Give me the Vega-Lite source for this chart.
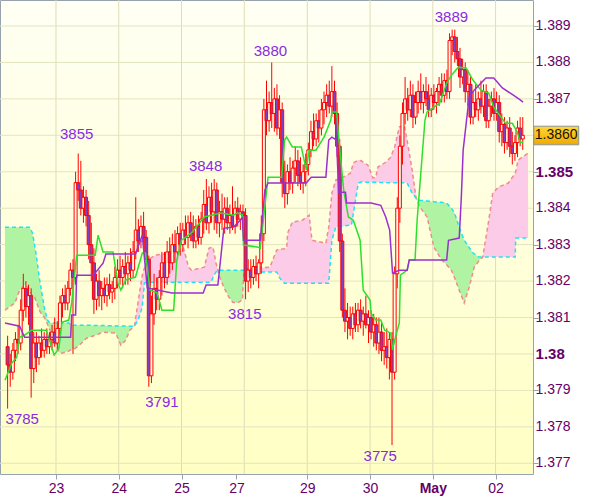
{
"$schema":"https://vega.github.io/schema/vega-lite/v6.json",
"width":533,"height":474,
"autosize":{"type":"none"},
"padding":{"left":0,"top":0,"right":67,"bottom":23},
"background":"#ffffff",
"config":{"view":{"stroke":"#98a2ae","strokeWidth":1,"fill":{"gradient":"linear","x1":0,"y1":0,"x2":0,"y2":1,"stops":[{"offset":0,"color":"#fffff4"},{"offset":1,"color":"#ffffc4"}]}},"font":"Liberation Sans",
 "axis":{"labelOverlap":false,"labelBound":false,"labelFlush":false,"title":null}},
"datasets":{
"days":[{"t":19.5},{"t":43.5},{"t":67.5},{"t":91.5},{"t":115.6},{"t":139.6},{"t":163.6},{"t":187.6}],
"yt":[{"v":1.377,"lab":"1.377","w":"normal"},{"v":1.378,"lab":"1.378","w":"normal"},{"v":1.379,"lab":"1.379","w":"normal"},{"v":1.38,"lab":"1.38","w":"bold"},{"v":1.381,"lab":"1.381","w":"normal"},{"v":1.382,"lab":"1.382","w":"normal"},{"v":1.383,"lab":"1.383","w":"normal"},{"v":1.384,"lab":"1.384","w":"normal"},{"v":1.385,"lab":"1.385","w":"bold"},{"v":1.386,"lab":"","w":"normal"},{"v":1.387,"lab":"1.387","w":"normal"},{"v":1.388,"lab":"1.388","w":"normal"},{"v":1.389,"lab":"1.389","w":"normal"}],
"candles":[
{"t":1,"o":1.3802,"h":1.3805,"l":1.3785,"c":1.3797},{"t":2,"o":1.3797,"h":1.3800,"l":1.3791,"c":1.3795},{"t":3,"o":1.3795,"h":1.3803,"l":1.3793,"c":1.3801},{"t":4,"o":1.3801,"h":1.3806,"l":1.3798,"c":1.3804},{"t":5,"o":1.3804,"h":1.3808,"l":1.3800,"c":1.3803},
{"t":6,"o":1.3803,"h":1.3815,"l":1.3801,"c":1.3812},{"t":7,"o":1.3812,"h":1.3822,"l":1.3809,"c":1.3818},{"t":8,"o":1.3818,"h":1.3820,"l":1.3810,"c":1.3813},{"t":9,"o":1.3813,"h":1.3819,"l":1.3808,"c":1.3816},{"t":10,"o":1.3816,"h":1.3818,"l":1.3788,"c":1.3796},
{"t":11,"o":1.3796,"h":1.3806,"l":1.3792,"c":1.3803},{"t":12,"o":1.3803,"h":1.3806,"l":1.3795,"c":1.3799},{"t":13,"o":1.3799,"h":1.3805,"l":1.3797,"c":1.3803},{"t":14,"o":1.3803,"h":1.3807,"l":1.3799,"c":1.3801},{"t":15,"o":1.3801,"h":1.3806,"l":1.3799,"c":1.3804},
{"t":16,"o":1.3804,"h":1.3807,"l":1.3800,"c":1.3802},{"t":17,"o":1.3802,"h":1.3806,"l":1.3800,"c":1.3804},{"t":18,"o":1.3804,"h":1.3808,"l":1.3801,"c":1.3806},{"t":19,"o":1.3806,"h":1.3810,"l":1.3802,"c":1.3803},{"t":20,"o":1.3803,"h":1.3809,"l":1.3801,"c":1.3807},
{"t":21,"o":1.3807,"h":1.3816,"l":1.3805,"c":1.3814},{"t":22,"o":1.3814,"h":1.3818,"l":1.3810,"c":1.3816},{"t":23,"o":1.3816,"h":1.3819,"l":1.3812,"c":1.3814},{"t":24,"o":1.3814,"h":1.3820,"l":1.3812,"c":1.3818},{"t":25,"o":1.3818,"h":1.3825,"l":1.3816,"c":1.3823},
{"t":26,"o":1.3823,"h":1.3826,"l":1.3800,"c":1.3821},{"t":27,"o":1.3821,"h":1.3850,"l":1.3819,"c":1.3847},{"t":28,"o":1.3847,"h":1.3855,"l":1.3842,"c":1.3845},{"t":29,"o":1.3845,"h":1.3853,"l":1.3838,"c":1.3840},{"t":30,"o":1.3840,"h":1.3846,"l":1.3836,"c":1.3843},
{"t":31,"o":1.3843,"h":1.3845,"l":1.3835,"c":1.3838},{"t":32,"o":1.3838,"h":1.3842,"l":1.3826,"c":1.3830},{"t":33,"o":1.3830,"h":1.3836,"l":1.3820,"c":1.3825},{"t":34,"o":1.3825,"h":1.3829,"l":1.3811,"c":1.3815},{"t":35,"o":1.3815,"h":1.3822,"l":1.3812,"c":1.3820},
{"t":36,"o":1.3820,"h":1.3823,"l":1.3813,"c":1.3816},{"t":37,"o":1.3816,"h":1.3820,"l":1.3812,"c":1.3818},{"t":38,"o":1.3818,"h":1.3821,"l":1.3814,"c":1.3816},{"t":39,"o":1.3816,"h":1.3821,"l":1.3813,"c":1.3819},{"t":40,"o":1.3819,"h":1.3822,"l":1.3815,"c":1.3817},
{"t":41,"o":1.3817,"h":1.3820,"l":1.3814,"c":1.3818},{"t":42,"o":1.3818,"h":1.3824,"l":1.3815,"c":1.3821},{"t":43,"o":1.3821,"h":1.3826,"l":1.3818,"c":1.3823},{"t":44,"o":1.3823,"h":1.3827,"l":1.3819,"c":1.3821},{"t":45,"o":1.3821,"h":1.3826,"l":1.3818,"c":1.3824},
{"t":46,"o":1.3824,"h":1.3828,"l":1.3819,"c":1.3822},{"t":47,"o":1.3822,"h":1.3827,"l":1.3819,"c":1.3825},{"t":48,"o":1.3825,"h":1.3829,"l":1.3820,"c":1.3823},{"t":49,"o":1.3823,"h":1.3831,"l":1.3821,"c":1.3828},{"t":50,"o":1.3828,"h":1.3843,"l":1.3826,"c":1.3834},
{"t":51,"o":1.3834,"h":1.3837,"l":1.3828,"c":1.3831},{"t":52,"o":1.3831,"h":1.3838,"l":1.3829,"c":1.3835},{"t":53,"o":1.3835,"h":1.3839,"l":1.3829,"c":1.3832},{"t":54,"o":1.3832,"h":1.3834,"l":1.3824,"c":1.3826},{"t":55,"o":1.3826,"h":1.3827,"l":1.3791,"c":1.3794},
{"t":56,"o":1.3794,"h":1.3816,"l":1.3792,"c":1.3811},{"t":57,"o":1.3811,"h":1.3822,"l":1.3808,"c":1.3818},{"t":58,"o":1.3818,"h":1.3821,"l":1.3812,"c":1.3815},{"t":59,"o":1.3815,"h":1.3823,"l":1.3812,"c":1.3821},{"t":60,"o":1.3821,"h":1.3828,"l":1.3816,"c":1.3825},
{"t":61,"o":1.3825,"h":1.3828,"l":1.3818,"c":1.3821},{"t":62,"o":1.3821,"h":1.3831,"l":1.3819,"c":1.3828},{"t":63,"o":1.3828,"h":1.3832,"l":1.3822,"c":1.3825},{"t":64,"o":1.3825,"h":1.3833,"l":1.3823,"c":1.3830},{"t":65,"o":1.3830,"h":1.3834,"l":1.3825,"c":1.3828},
{"t":66,"o":1.3828,"h":1.3835,"l":1.3826,"c":1.3833},{"t":67,"o":1.3833,"h":1.3836,"l":1.3827,"c":1.3830},{"t":68,"o":1.3830,"h":1.3836,"l":1.3828,"c":1.3834},{"t":69,"o":1.3834,"h":1.3838,"l":1.3830,"c":1.3832},{"t":70,"o":1.3832,"h":1.3838,"l":1.3829,"c":1.3836},
{"t":71,"o":1.3836,"h":1.3839,"l":1.3831,"c":1.3833},{"t":72,"o":1.3833,"h":1.3838,"l":1.3829,"c":1.3831},{"t":73,"o":1.3831,"h":1.3837,"l":1.3829,"c":1.3835},{"t":74,"o":1.3835,"h":1.3838,"l":1.3830,"c":1.3832},{"t":75,"o":1.3832,"h":1.3839,"l":1.3830,"c":1.3837},
{"t":76,"o":1.3837,"h":1.3845,"l":1.3833,"c":1.3841},{"t":77,"o":1.3841,"h":1.3848,"l":1.3834,"c":1.3836},{"t":78,"o":1.3836,"h":1.3846,"l":1.3833,"c":1.3843},{"t":79,"o":1.3843,"h":1.3847,"l":1.3836,"c":1.3839},{"t":80,"o":1.3839,"h":1.3848,"l":1.3834,"c":1.3845},
{"t":81,"o":1.3845,"h":1.3847,"l":1.3833,"c":1.3836},{"t":82,"o":1.3836,"h":1.3842,"l":1.3832,"c":1.3839},{"t":83,"o":1.3839,"h":1.3844,"l":1.3834,"c":1.3837},{"t":84,"o":1.3837,"h":1.3843,"l":1.3833,"c":1.3840},{"t":85,"o":1.3840,"h":1.3843,"l":1.3834,"c":1.3836},
{"t":86,"o":1.3836,"h":1.3841,"l":1.3833,"c":1.3838},{"t":87,"o":1.3838,"h":1.3846,"l":1.3834,"c":1.3835},{"t":88,"o":1.3835,"h":1.3842,"l":1.3833,"c":1.3840},{"t":89,"o":1.3840,"h":1.3843,"l":1.3835,"c":1.3837},{"t":90,"o":1.3837,"h":1.3841,"l":1.3834,"c":1.3839},
{"t":91,"o":1.3839,"h":1.3841,"l":1.3834,"c":1.3838},{"t":92,"o":1.3838,"h":1.3840,"l":1.3815,"c":1.3820},{"t":93,"o":1.3820,"h":1.3826,"l":1.3817,"c":1.3823},{"t":94,"o":1.3823,"h":1.3826,"l":1.3818,"c":1.3821},{"t":95,"o":1.3821,"h":1.3826,"l":1.3819,"c":1.3824},
{"t":96,"o":1.3824,"h":1.3827,"l":1.3820,"c":1.3822},{"t":97,"o":1.3822,"h":1.3826,"l":1.3818,"c":1.3825},{"t":98,"o":1.3825,"h":1.3838,"l":1.3822,"c":1.3833},{"t":99,"o":1.3833,"h":1.3870,"l":1.3831,"c":1.3867},{"t":100,"o":1.3867,"h":1.3875,"l":1.3860,"c":1.3864},
{"t":101,"o":1.3864,"h":1.3872,"l":1.3861,"c":1.3869},{"t":102,"o":1.3869,"h":1.3880,"l":1.3862,"c":1.3866},{"t":103,"o":1.3866,"h":1.3873,"l":1.3861,"c":1.3870},{"t":104,"o":1.3870,"h":1.3874,"l":1.3860,"c":1.3862},{"t":105,"o":1.3862,"h":1.3871,"l":1.3859,"c":1.3867},
{"t":106,"o":1.3867,"h":1.3869,"l":1.3843,"c":1.3847},{"t":107,"o":1.3847,"h":1.3853,"l":1.3840,"c":1.3844},{"t":108,"o":1.3844,"h":1.3852,"l":1.3841,"c":1.3850},{"t":109,"o":1.3850,"h":1.3854,"l":1.3845,"c":1.3847},{"t":110,"o":1.3847,"h":1.3853,"l":1.3844,"c":1.3851},
{"t":111,"o":1.3851,"h":1.3857,"l":1.3847,"c":1.3853},{"t":112,"o":1.3853,"h":1.3856,"l":1.3846,"c":1.3849},{"t":113,"o":1.3849,"h":1.3854,"l":1.3845,"c":1.3847},{"t":114,"o":1.3847,"h":1.3852,"l":1.3844,"c":1.3850},{"t":115,"o":1.3850,"h":1.3855,"l":1.3846,"c":1.3852},
{"t":116,"o":1.3852,"h":1.3858,"l":1.3849,"c":1.3856},{"t":117,"o":1.3856,"h":1.3864,"l":1.3854,"c":1.3861},{"t":118,"o":1.3861,"h":1.3866,"l":1.3857,"c":1.3859},{"t":119,"o":1.3859,"h":1.3866,"l":1.3857,"c":1.3864},{"t":120,"o":1.3864,"h":1.3867,"l":1.3858,"c":1.3862},
{"t":121,"o":1.3862,"h":1.3870,"l":1.3860,"c":1.3867},{"t":122,"o":1.3867,"h":1.3872,"l":1.3863,"c":1.3869},{"t":123,"o":1.3869,"h":1.3874,"l":1.3865,"c":1.3871},{"t":124,"o":1.3871,"h":1.3875,"l":1.3866,"c":1.3868},{"t":125,"o":1.3868,"h":1.3879,"l":1.3865,"c":1.3872},
{"t":126,"o":1.3872,"h":1.3875,"l":1.3863,"c":1.3866},{"t":127,"o":1.3866,"h":1.3869,"l":1.3854,"c":1.3857},{"t":128,"o":1.3857,"h":1.3859,"l":1.3828,"c":1.3831},{"t":129,"o":1.3831,"h":1.3833,"l":1.3810,"c":1.3812},{"t":130,"o":1.3812,"h":1.3818,"l":1.3806,"c":1.3809},
{"t":131,"o":1.3809,"h":1.3814,"l":1.3804,"c":1.3810},{"t":132,"o":1.3810,"h":1.3813,"l":1.3805,"c":1.3807},{"t":133,"o":1.3807,"h":1.3813,"l":1.3804,"c":1.3811},{"t":134,"o":1.3811,"h":1.3814,"l":1.3806,"c":1.3808},{"t":135,"o":1.3808,"h":1.3814,"l":1.3806,"c":1.3812},
{"t":136,"o":1.3812,"h":1.3815,"l":1.3807,"c":1.3809},{"t":137,"o":1.3809,"h":1.3813,"l":1.3805,"c":1.3811},{"t":138,"o":1.3811,"h":1.3816,"l":1.3807,"c":1.3808},{"t":139,"o":1.3808,"h":1.3812,"l":1.3803,"c":1.3810},{"t":140,"o":1.3810,"h":1.3812,"l":1.3804,"c":1.3806},
{"t":141,"o":1.3806,"h":1.3811,"l":1.3802,"c":1.3808},{"t":142,"o":1.3808,"h":1.3810,"l":1.3801,"c":1.3803},{"t":143,"o":1.3803,"h":1.3810,"l":1.3800,"c":1.3806},{"t":144,"o":1.3806,"h":1.3809,"l":1.3798,"c":1.3801},{"t":145,"o":1.3801,"h":1.3806,"l":1.3797,"c":1.3802},
{"t":146,"o":1.3802,"h":1.3807,"l":1.3796,"c":1.3799},{"t":147,"o":1.3799,"h":1.3806,"l":1.3793,"c":1.3804},{"t":148,"o":1.3804,"h":1.3806,"l":1.3775,"c":1.3795},{"t":149,"o":1.3795,"h":1.3824,"l":1.3793,"c":1.3822},{"t":150,"o":1.3822,"h":1.3843,"l":1.3818,"c":1.3840},
{"t":151,"o":1.3840,"h":1.3860,"l":1.3836,"c":1.3857},{"t":152,"o":1.3857,"h":1.3869,"l":1.3852,"c":1.3866},{"t":153,"o":1.3866,"h":1.3876,"l":1.3863,"c":1.3870},{"t":154,"o":1.3870,"h":1.3873,"l":1.3864,"c":1.3867},{"t":155,"o":1.3867,"h":1.3875,"l":1.3865,"c":1.3871},
{"t":156,"o":1.3871,"h":1.3874,"l":1.3862,"c":1.3865},{"t":157,"o":1.3865,"h":1.3872,"l":1.3863,"c":1.3869},{"t":158,"o":1.3869,"h":1.3875,"l":1.3866,"c":1.3872},{"t":159,"o":1.3872,"h":1.3877,"l":1.3867,"c":1.3869},{"t":160,"o":1.3869,"h":1.3874,"l":1.3866,"c":1.3872},
{"t":161,"o":1.3872,"h":1.3876,"l":1.3868,"c":1.3870},{"t":162,"o":1.3870,"h":1.3874,"l":1.3865,"c":1.3867},{"t":163,"o":1.3867,"h":1.3873,"l":1.3865,"c":1.3871},{"t":164,"o":1.3871,"h":1.3874,"l":1.3867,"c":1.3869},{"t":165,"o":1.3869,"h":1.3873,"l":1.3866,"c":1.3872},
{"t":166,"o":1.3872,"h":1.3876,"l":1.3868,"c":1.3874},{"t":167,"o":1.3874,"h":1.3877,"l":1.3869,"c":1.3871},{"t":168,"o":1.3871,"h":1.3877,"l":1.3869,"c":1.3875},{"t":169,"o":1.3875,"h":1.3878,"l":1.3870,"c":1.3872},{"t":170,"o":1.3872,"h":1.3888,"l":1.3870,"c":1.3886},
{"t":171,"o":1.3886,"h":1.3889,"l":1.3882,"c":1.3887},{"t":172,"o":1.3887,"h":1.3889,"l":1.3880,"c":1.3883},{"t":173,"o":1.3883,"h":1.3887,"l":1.3879,"c":1.3881},{"t":174,"o":1.3881,"h":1.3884,"l":1.3873,"c":1.3876},{"t":175,"o":1.3876,"h":1.3881,"l":1.3874,"c":1.3878},
{"t":176,"o":1.3878,"h":1.3880,"l":1.3869,"c":1.3872},{"t":177,"o":1.3872,"h":1.3878,"l":1.3868,"c":1.3874},{"t":178,"o":1.3874,"h":1.3876,"l":1.3863,"c":1.3865},{"t":179,"o":1.3865,"h":1.3872,"l":1.3863,"c":1.3869},{"t":180,"o":1.3869,"h":1.3874,"l":1.3865,"c":1.3867},
{"t":181,"o":1.3867,"h":1.3872,"l":1.3864,"c":1.3870},{"t":182,"o":1.3870,"h":1.3875,"l":1.3866,"c":1.3868},{"t":183,"o":1.3868,"h":1.3874,"l":1.3865,"c":1.3872},{"t":184,"o":1.3872,"h":1.3874,"l":1.3862,"c":1.3864},{"t":185,"o":1.3864,"h":1.3870,"l":1.3862,"c":1.3868},
{"t":186,"o":1.3868,"h":1.3872,"l":1.3865,"c":1.3870},{"t":187,"o":1.3870,"h":1.3873,"l":1.3864,"c":1.3866},{"t":188,"o":1.3866,"h":1.3872,"l":1.3864,"c":1.3869},{"t":189,"o":1.3869,"h":1.3871,"l":1.3858,"c":1.3861},{"t":190,"o":1.3861,"h":1.3866,"l":1.3857,"c":1.3863},
{"t":191,"o":1.3863,"h":1.3865,"l":1.3855,"c":1.3858},{"t":192,"o":1.3858,"h":1.3864,"l":1.3856,"c":1.3862},{"t":193,"o":1.3862,"h":1.3865,"l":1.3854,"c":1.3857},{"t":194,"o":1.3857,"h":1.3861,"l":1.3852,"c":1.3855},{"t":195,"o":1.3855,"h":1.3860,"l":1.3853,"c":1.3858},
{"t":196,"o":1.3858,"h":1.3864,"l":1.3854,"c":1.3862},{"t":197,"o":1.3862,"h":1.3865,"l":1.3857,"c":1.3859},{"t":198,"o":1.3859,"h":1.3865,"l":1.3856,"c":1.3860}
],
"cloud":[
{"t":0,"a":1.38120,"b":1.38348,"s":1,"k":"g"},{"t":3.8,"a":1.38140,"b":1.38348,"s":1,"k":"g"},{"t":5.6,"a":1.38175,"b":1.38348,"s":1,"k":"g"},{"t":7.5,"a":1.38189,"b":1.38348,"s":1,"k":"g"},{"t":8.6,"a":1.38183,"b":1.38348,"s":1,"k":"g"},{"t":9.4,"a":1.38175,"b":1.38348,"s":1,"k":"g"},{"t":10.5,"a":1.38159,"b":1.38332,"s":1,"k":"g"},{"t":11.3,"a":1.38156,"b":1.38300,"s":1,"k":"g"},{"t":12.4,"a":1.38135,"b":1.38249,"s":1,"k":"g"},{"t":13.1,"a":1.38120,"b":1.38210,"s":1,"k":"g"},{"t":13.9,"a":1.38110,"b":1.38175,"s":1,"k":"g"},{"t":15.0,"a":1.38101,"b":1.38129,"s":1,"k":"g"},{"t":16.1,"a":1.38085,"b":1.38095,"s":1,"k":"g"},{"t":16.9,"a":1.38070,"b":1.38087,"s":1,"k":"g"},{"t":17.6,"a":1.38058,"b":1.38085,"s":1,"k":"g"},{"t":18.8,"a":1.38046,"b":1.38085,"s":1,"k":"g"},{"t":20.6,"a":1.38005,"b":1.38085,"s":1,"k":"g"},{"t":21.8,"a":1.38002,"b":1.38085,"s":1,"k":"g"},{"t":24.4,"a":1.38008,"b":1.38085,"s":1,"k":"g"},{"t":25.1,"a":1.38011,"b":1.38079,"s":1,"k":"g"},{"t":27.0,"a":1.38016,"b":1.38079,"s":1,"k":"g"},{"t":29.3,"a":1.38030,"b":1.38079,"s":1,"k":"g"},{"t":31.1,"a":1.38043,"b":1.38079,"s":1,"k":"g"},{"t":34.9,"a":1.38052,"b":1.38078,"s":1,"k":"g"},{"t":37.5,"a":1.38060,"b":1.38078,"s":1,"k":"g"},{"t":42.4,"a":1.38057,"b":1.38077,"s":1,"k":"g"},{"t":44.3,"a":1.38024,"b":1.38077,"s":1,"k":"g"},{"t":46.2,"a":1.38038,"b":1.38077,"s":1,"k":"g"},{"t":47.7,"a":1.38065,"b":1.38076,"s":1,"k":"g"},{"t":49.5,"a":1.38076,"b":1.38076,"s":1,"k":"g"},
{"t":49.5,"a":1.38076,"b":1.38076,"s":2,"k":"p"},{"t":51.0,"a":1.38148,"b":1.38095,"s":2,"k":"p"},{"t":52.5,"a":1.38216,"b":1.38129,"s":2,"k":"p"},{"t":53.3,"a":1.38235,"b":1.38194,"s":2,"k":"p"},{"t":53.7,"a":1.38244,"b":1.38196,"s":2,"k":"p"},{"t":55.2,"a":1.38260,"b":1.38197,"s":2,"k":"p"},{"t":57.4,"a":1.38271,"b":1.38197,"s":2,"k":"p"},{"t":63.8,"a":1.38277,"b":1.38197,"s":2,"k":"p"},{"t":66.4,"a":1.38280,"b":1.38197,"s":2,"k":"p"},{"t":68.3,"a":1.38290,"b":1.38197,"s":2,"k":"p"},{"t":70.2,"a":1.38238,"b":1.38197,"s":2,"k":"p"},{"t":71.3,"a":1.38230,"b":1.38197,"s":2,"k":"p"},{"t":76.2,"a":1.38238,"b":1.38197,"s":2,"k":"p"},{"t":78.0,"a":1.38290,"b":1.38197,"s":2,"k":"p"},{"t":78.8,"a":1.38292,"b":1.38197,"s":2,"k":"p"},{"t":79.5,"a":1.38293,"b":1.38210,"s":2,"k":"p"},{"t":79.9,"a":1.38280,"b":1.38216,"s":2,"k":"p"},{"t":80.7,"a":1.38249,"b":1.38225,"s":2,"k":"p"},{"t":81.4,"a":1.38230,"b":1.38230,"s":2,"k":"p"},
{"t":81.4,"a":1.38230,"b":1.38230,"s":3,"k":"g"},{"t":81.8,"a":1.38216,"b":1.38230,"s":3,"k":"g"},{"t":83.7,"a":1.38183,"b":1.38230,"s":3,"k":"g"},{"t":85.6,"a":1.38156,"b":1.38230,"s":3,"k":"g"},{"t":87.1,"a":1.38142,"b":1.38230,"s":3,"k":"g"},{"t":88.9,"a":1.38140,"b":1.38230,"s":3,"k":"g"},{"t":90.8,"a":1.38148,"b":1.38230,"s":3,"k":"g"},{"t":91.2,"a":1.38211,"b":1.38230,"s":3,"k":"g"},{"t":91.6,"a":1.38230,"b":1.38230,"s":3,"k":"g"},
{"t":91.6,"a":1.38230,"b":1.38230,"s":4,"k":"p"},{"t":93.1,"a":1.38234,"b":1.38225,"s":4,"k":"p"},{"t":94.6,"a":1.38236,"b":1.38225,"s":4,"k":"p"},{"t":101.3,"a":1.38238,"b":1.38225,"s":4,"k":"p"},{"t":103.9,"a":1.38285,"b":1.38225,"s":4,"k":"p"},{"t":105.1,"a":1.38288,"b":1.38208,"s":4,"k":"p"},{"t":106.9,"a":1.38289,"b":1.38194,"s":4,"k":"p"},{"t":107.7,"a":1.38290,"b":1.38194,"s":4,"k":"p"},{"t":108.1,"a":1.38332,"b":1.38194,"s":4,"k":"p"},{"t":109.9,"a":1.38362,"b":1.38194,"s":4,"k":"p"},{"t":113.7,"a":1.38367,"b":1.38194,"s":4,"k":"p"},{"t":116.3,"a":1.38381,"b":1.38194,"s":4,"k":"p"},{"t":117.4,"a":1.38312,"b":1.38194,"s":4,"k":"p"},{"t":122.7,"a":1.38304,"b":1.38194,"s":4,"k":"p"},{"t":123.8,"a":1.38348,"b":1.38194,"s":4,"k":"p"},{"t":125.0,"a":1.38441,"b":1.38312,"s":4,"k":"p"},{"t":126.5,"a":1.38477,"b":1.38348,"s":4,"k":"p"},{"t":128.7,"a":1.38483,"b":1.38350,"s":4,"k":"p"},{"t":132.1,"a":1.38496,"b":1.38354,"s":4,"k":"p"},{"t":132.5,"a":1.38505,"b":1.38354,"s":4,"k":"p"},{"t":133.2,"a":1.38524,"b":1.38385,"s":4,"k":"p"},{"t":135.1,"a":1.38532,"b":1.38469,"s":4,"k":"p"},{"t":136.2,"a":1.38530,"b":1.38472,"s":4,"k":"p"},{"t":138.8,"a":1.38518,"b":1.38471,"s":4,"k":"p"},{"t":140.7,"a":1.38483,"b":1.38471,"s":4,"k":"p"},{"t":141.8,"a":1.38485,"b":1.38471,"s":4,"k":"p"},{"t":142.6,"a":1.38513,"b":1.38471,"s":4,"k":"p"},{"t":145.6,"a":1.38526,"b":1.38470,"s":4,"k":"p"},{"t":147.5,"a":1.38540,"b":1.38470,"s":4,"k":"p"},{"t":149.0,"a":1.38568,"b":1.38470,"s":4,"k":"p"},{"t":150.8,"a":1.38623,"b":1.38470,"s":4,"k":"p"},{"t":152.7,"a":1.38628,"b":1.38470,"s":4,"k":"p"},{"t":153.8,"a":1.38585,"b":1.38469,"s":4,"k":"p"},{"t":155.7,"a":1.38505,"b":1.38441,"s":4,"k":"p"},{"t":157.2,"a":1.38428,"b":1.38428,"s":4,"k":"p"},
{"t":157.2,"a":1.38428,"b":1.38428,"s":5,"k":"g"},{"t":158.5,"a":1.38405,"b":1.38422,"s":5,"k":"g"},{"t":161.4,"a":1.38376,"b":1.38420,"s":5,"k":"g"},{"t":164.0,"a":1.38293,"b":1.38418,"s":5,"k":"g"},{"t":167.0,"a":1.38258,"b":1.38416,"s":5,"k":"g"},{"t":168.9,"a":1.38245,"b":1.38414,"s":5,"k":"g"},{"t":170.7,"a":1.38230,"b":1.38400,"s":5,"k":"g"},{"t":171.9,"a":1.38210,"b":1.38387,"s":5,"k":"g"},{"t":173.7,"a":1.38175,"b":1.38348,"s":5,"k":"g"},{"t":175.6,"a":1.38140,"b":1.38312,"s":5,"k":"g"},{"t":177.5,"a":1.38183,"b":1.38292,"s":5,"k":"g"},{"t":179.0,"a":1.38225,"b":1.38277,"s":5,"k":"g"},{"t":179.4,"a":1.38238,"b":1.38275,"s":5,"k":"g"},{"t":181.2,"a":1.38255,"b":1.38266,"s":5,"k":"g"},{"t":182.7,"a":1.38266,"b":1.38266,"s":5,"k":"g"},
{"t":182.7,"a":1.38266,"b":1.38266,"s":6,"k":"p"},{"t":185.0,"a":1.38367,"b":1.38266,"s":6,"k":"p"},{"t":186.5,"a":1.38441,"b":1.38266,"s":6,"k":"p"},{"t":188.7,"a":1.38458,"b":1.38266,"s":6,"k":"p"},{"t":192.5,"a":1.38469,"b":1.38266,"s":6,"k":"p"},{"t":195.1,"a":1.38496,"b":1.38266,"s":6,"k":"p"},{"t":195.3,"a":1.38500,"b":1.38318,"s":6,"k":"p"},{"t":196.2,"a":1.38532,"b":1.38318,"s":6,"k":"p"},{"t":200,"a":1.38551,"b":1.38318,"s":6,"k":"p"}
],
"tenkan":[
{"t":0,"v":1.37928},{"t":2.6,"v":1.37975},{"t":4.5,"v":1.37991},{"t":5.6,"v":1.38046},{"t":7.5,"v":1.38052},{"t":10.1,"v":1.38065},{"t":15.8,"v":1.38065},{"t":18.8,"v":1.37997},{"t":20.6,"v":1.38016},{"t":21.8,"v":1.38087},{"t":24.4,"v":1.38093},{"t":25.5,"v":1.38140},{"t":27.4,"v":1.38271},{"t":34.5,"v":1.38271},{"t":35.6,"v":1.38326},{"t":37.5,"v":1.38280},{"t":41.3,"v":1.38280},{"t":43.2,"v":1.38194},{"t":44.3,"v":1.38175},{"t":46.2,"v":1.38203},{"t":49.9,"v":1.38211},{"t":52.5,"v":1.38277},{"t":53.7,"v":1.38277},{"t":55.5,"v":1.38175},{"t":58.2,"v":1.38167},{"t":60.0,"v":1.38120},{"t":64.5,"v":1.38120},{"t":65.7,"v":1.38258},{"t":67.5,"v":1.38312},{"t":71.3,"v":1.38332},{"t":76.2,"v":1.38376},{"t":82.6,"v":1.38387},{"t":87.4,"v":1.38381},{"t":88.9,"v":1.38387},{"t":90.8,"v":1.38381},{"t":91.2,"v":1.38299},{"t":96.8,"v":1.38293},{"t":97.6,"v":1.38290},{"t":100.2,"v":1.38458},{"t":100.6,"v":1.38485},{"t":105.8,"v":1.38485},{"t":106.9,"v":1.38587},{"t":107.7,"v":1.38595},{"t":109.9,"v":1.38568},{"t":113.3,"v":1.38568},{"t":115.2,"v":1.38505},{"t":116.3,"v":1.38559},{"t":118.9,"v":1.38559},{"t":122.0,"v":1.38595},{"t":124.6,"v":1.38642},{"t":125.0,"v":1.38664},{"t":126.8,"v":1.38664},{"t":127.6,"v":1.38595},{"t":129.5,"v":1.38450},{"t":131.3,"v":1.38376},{"t":133.2,"v":1.38367},{"t":135.8,"v":1.38312},{"t":137.0,"v":1.38175},{"t":139.6,"v":1.38148},{"t":140.0,"v":1.38112},{"t":141.8,"v":1.38093},{"t":143.7,"v":1.38093},{"t":145.2,"v":1.38065},{"t":147.5,"v":1.38057},{"t":148.2,"v":1.38011},{"t":149.3,"v":1.38046},{"t":150.8,"v":1.38085},{"t":151.2,"v":1.38216},{"t":153.8,"v":1.38230},{"t":154.6,"v":1.38258},{"t":156.8,"v":1.38258},{"t":157.6,"v":1.38367},{"t":160.6,"v":1.38642},{"t":161.4,"v":1.38664},{"t":166.2,"v":1.38688},{"t":168.9,"v":1.38743},{"t":170.7,"v":1.38765},{"t":173.4,"v":1.38787},{"t":176.4,"v":1.38784},{"t":179.0,"v":1.38751},{"t":182.0,"v":1.38724},{"t":185.0,"v":1.38716},{"t":186.9,"v":1.38677},{"t":191.4,"v":1.38633},{"t":194.0,"v":1.38633},{"t":195.9,"v":1.38609},{"t":197.0,"v":1.38581},{"t":198.1,"v":1.38581}
],
"kijun":[
{"t":0,"v":1.38085},{"t":5.6,"v":1.38076},{"t":7.5,"v":1.38046},{"t":25.1,"v":1.38046},{"t":25.5,"v":1.38107},{"t":27.0,"v":1.38107},{"t":27.4,"v":1.38216},{"t":33.8,"v":1.38216},{"t":37.5,"v":1.38249},{"t":38.6,"v":1.38274},{"t":49.9,"v":1.38274},{"t":52.5,"v":1.38326},{"t":54.4,"v":1.38181},{"t":63.8,"v":1.38167},{"t":75.8,"v":1.38167},{"t":76.9,"v":1.38189},{"t":81.4,"v":1.38189},{"t":83.7,"v":1.38345},{"t":87.4,"v":1.38348},{"t":90.8,"v":1.38373},{"t":91.2,"v":1.38312},{"t":97.6,"v":1.38312},{"t":99.4,"v":1.38450},{"t":100.6,"v":1.38469},{"t":115.2,"v":1.38469},{"t":117.1,"v":1.38485},{"t":122.7,"v":1.38485},{"t":123.8,"v":1.38587},{"t":125.0,"v":1.38595},{"t":126.8,"v":1.38587},{"t":127.6,"v":1.38444},{"t":130.2,"v":1.38444},{"t":130.6,"v":1.38414},{"t":140.0,"v":1.38414},{"t":143.7,"v":1.38408},{"t":145.6,"v":1.38376},{"t":147.1,"v":1.38340},{"t":148.2,"v":1.38222},{"t":150.8,"v":1.38230},{"t":153.8,"v":1.38230},{"t":154.6,"v":1.38258},{"t":168.9,"v":1.38258},{"t":169.6,"v":1.38312},{"t":173.7,"v":1.38318},{"t":174.5,"v":1.38430},{"t":175.2,"v":1.38559},{"t":177.5,"v":1.38705},{"t":179.4,"v":1.38724},{"t":183.9,"v":1.38757},{"t":186.9,"v":1.38757},{"t":190.2,"v":1.38730},{"t":194.4,"v":1.38710},{"t":197.0,"v":1.38697},{"t":198.1,"v":1.38691}
],
"labels":[
{"t":170.7,"p":1.38924,"s":"3889"},{"t":101.5,"p":1.38831,"s":"3880"},{"t":27.4,"p":1.38603,"s":"3855"},{"t":76.7,"p":1.38515,"s":"3848"},{"t":91.7,"p":1.38109,"s":"3815"},{"t":60.0,"p":1.37868,"s":"3791"},{"t":6.6,"p":1.37821,"s":"3785"},{"t":143.5,"p":1.37721,"s":"3775"}
],
"last":[{"x1":202.2,"x2":219.4,"y1":1.38625,"y2":1.38574,"t":210.8,"p":1.3860,"s":"1.3860"}]
},
"layer":[
{"data":{"name":"days"},"mark":{"type":"rule","color":"#deddb6","strokeWidth":1},
 "encoding":{"x":{"field":"t","type":"quantitative","scale":{"domain":[0,200],"nice":false,"zero":false},
   "axis":{"orient":"bottom","values":[19.5,43.5,67.5,88.5,115.6,139.6,163.6,187.6],"grid":false,"domain":false,"title":null,"tickSize":5,"tickColor":"#98a2ae","labelColor":"#660066","labelFontSize":14,"labelPadding":2,"labelFlush":false,"labelOverlap":false,
   "labelExpr":"datum.value < 20 ? '23' : datum.value < 44 ? '24' : datum.value < 68 ? '25' : datum.value < 89 ? '27' : datum.value < 116 ? '29' : datum.value < 140 ? '30' : datum.value < 164 ? 'May' : '02'",
   "labelFontWeight":{"condition":{"test":"datum.value > 160 && datum.value < 170","value":"bold"},"value":"normal"}}}}},
{"data":{"name":"yt"},"mark":{"type":"rule","color":"#e4e3c0","strokeWidth":1},
 "encoding":{"y":{"field":"v","type":"quantitative","scale":{"domain":[1.376706,1.389713],"nice":false,"zero":false},
   "axis":{"orient":"right","values":[1.377,1.378,1.379,1.38,1.381,1.382,1.383,1.384,1.385,1.386,1.387,1.388,1.389],"grid":false,"domain":false,"title":null,"tickSize":5,"tickColor":"#98a2ae","labels":false}}}},
{"data":{"name":"yt"},"transform":[{"filter":"datum.w == 'normal'"}],"mark":{"type":"text","align":"left","baseline":"middle","color":"#660066","font":"Liberation Sans","fontSize":14},
 "encoding":{"x":{"datum":202.9,"type":"quantitative"},
  "y":{"field":"v","type":"quantitative"},
  "text":{"field":"lab"}}},
{"data":{"name":"yt"},"transform":[{"filter":"datum.w == 'bold'"}],"mark":{"type":"text","align":"left","baseline":"middle","color":"#660066","font":"Liberation Sans","fontSize":15,"fontWeight":"bold"},
 "encoding":{"x":{"datum":202.9,"type":"quantitative"},
  "y":{"field":"v","type":"quantitative"},
  "text":{"field":"lab"}}},
{"data":{"name":"cloud"},"mark":{"type":"area","opacity":1},
 "encoding":{"x":{"field":"t","type":"quantitative"},
  "y":{"field":"a","type":"quantitative"},
  "y2":{"field":"b"},
  "detail":{"field":"s","type":"nominal"},
  "fill":{"field":"k","type":"nominal","scale":{"domain":["g","p"],"range":["#b0f3a2","#fbcbe8"]},"legend":null}}},
{"data":{"name":"cloud"},"mark":{"type":"line","color":"#f08c8c","strokeWidth":1.5,"strokeDash":[4,3]},
 "encoding":{"x":{"field":"t","type":"quantitative"},
  "y":{"field":"a","type":"quantitative"}}},
{"data":{"name":"cloud"},"mark":{"type":"line","color":"#1fe3f5","strokeWidth":1.5,"strokeDash":[4,3]},
 "encoding":{"x":{"field":"t","type":"quantitative"},
  "y":{"field":"b","type":"quantitative"}}},
{"data":{"name":"candles"},"mark":{"type":"rule","color":"#ff0000","strokeWidth":1},
 "encoding":{"x":{"field":"t","type":"quantitative"},
  "y":{"field":"l","type":"quantitative"},
  "y2":{"field":"h"}}},
{"data":{"name":"candles"},"mark":{"type":"bar","width":3,"stroke":"#ff0000","strokeWidth":1},
 "encoding":{"x":{"field":"t","type":"quantitative"},
  "y":{"field":"o","type":"quantitative"},
  "y2":{"field":"c"},
  "fill":{"condition":{"test":"datum.c < datum.o","value":"#8040c0"},"value":"#fffbe0"}}},
{"data":{"name":"tenkan"},"mark":{"type":"line","color":"#2ee02e","strokeWidth":1.5},
 "encoding":{"x":{"field":"t","type":"quantitative"},
  "y":{"field":"v","type":"quantitative"}}},
{"data":{"name":"kijun"},"mark":{"type":"line","color":"#9b30d0","strokeWidth":1.5},
 "encoding":{"x":{"field":"t","type":"quantitative"},
  "y":{"field":"v","type":"quantitative"}}},
{"data":{"name":"labels"},"mark":{"type":"text","color":"#8a2be2","fontSize":15,"font":"Liberation Sans","baseline":"middle","align":"center"},
 "encoding":{"x":{"field":"t","type":"quantitative"},
  "y":{"field":"p","type":"quantitative"},
  "text":{"field":"s"}}},
{"data":{"name":"last"},"mark":{"type":"rect","stroke":"#8c949c","strokeWidth":1,"fill":{"gradient":"linear","x1":0,"y1":0,"x2":0,"y2":1,"stops":[{"offset":0,"color":"#ffd634"},{"offset":1,"color":"#eeaa00"}]}},
 "encoding":{"x":{"field":"x1","type":"quantitative"},"x2":{"field":"x2"},
  "y":{"field":"y1","type":"quantitative"},"y2":{"field":"y2"}}},
{"data":{"name":"last"},"mark":{"type":"text","color":"#1a1200","fontSize":14,"font":"Liberation Sans","baseline":"middle","align":"center"},
 "encoding":{"x":{"field":"t","type":"quantitative"},
  "y":{"field":"p","type":"quantitative"},
  "text":{"field":"s"}}}
]
}
